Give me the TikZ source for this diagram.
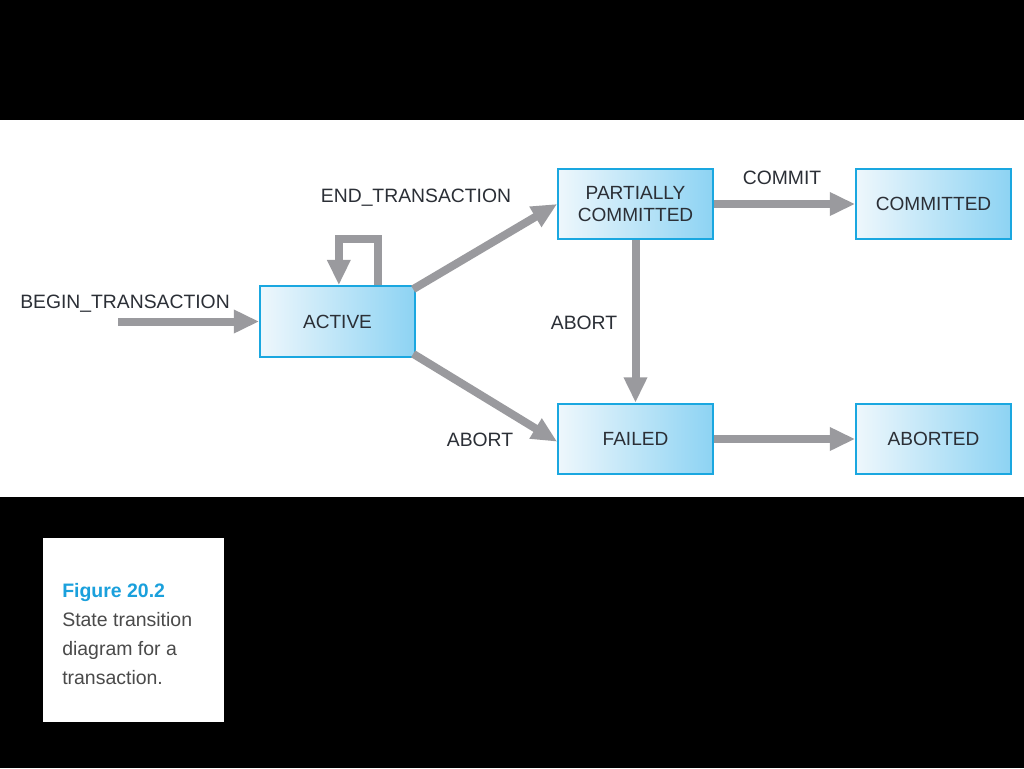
\documentclass[tikz,border=0pt]{standalone}
\usepackage{fontspec}
\setmainfont{Liberation Sans}
\usepackage{xcolor}
\usetikzlibrary{arrows.meta,positioning}

\definecolor{boxedge}{HTML}{1AA7E0}
\definecolor{boxlight}{HTML}{EEF7FC}
\definecolor{boxdark}{HTML}{8DD3F3}
\definecolor{arrgray}{HTML}{9A9A9E}
\definecolor{figblue}{HTML}{1AA0DC}
\definecolor{txt}{HTML}{2B2F36}
\definecolor{captxt}{HTML}{4A4A4A}

\begin{document}
\begin{tikzpicture}[
  x=0.75pt, y=-0.75pt,
  box/.style={rectangle, draw=boxedge, line width=1.5pt, left color=boxlight, right color=boxdark,
    minimum width=116pt, minimum height=53pt, align=center, text=txt,
    font=\fontsize{14.3}{16}\selectfont},
  arr/.style={-{Triangle[length=19pt, width=16.5pt]}, line width=6pt, draw=arrgray},
  lbl/.style={text=txt, font=\fontsize{14.5}{16}\selectfont},
]
  % background and figure band
  \fill[black] (0,0) rectangle (1024,768);
  \fill[white] (0,120) rectangle (1024,497);
  \useasboundingbox (0,0) rectangle (1024,768);

  \node[box] (active) at (337.5,321.5) {ACTIVE};
  \node[box] (partial) at (635.5,204) {PARTIALLY\\COMMITTED};
  \node[box] (committed) at (933.5,204) {COMMITTED};
  \node[box] (failed) at (635.5,439) {FAILED};
  \node[box] (aborted) at (933.5,439) {ABORTED};
  \coordinate (begin) at (118,321.5);

  \draw[arr] (begin) -- (active);
  \draw[arr] ([xshift=30pt]active.north) -- ++(0,-46) -| ([xshift=1pt]active.north);
  \draw[arr] ([xshift=-2pt,yshift=-3pt]active.north east) -- (partial.west);
  \draw[arr] ([xshift=-2pt,yshift=3pt]active.south east) -- ([yshift=-2pt]failed.west);
  \draw[arr] (partial) -- (committed);
  \draw[arr] (partial) -- (failed);
  \draw[arr] (failed) -- (aborted);

  \node[lbl] (lbegin) at (125,304) {BEGIN\_TRANSACTION};
  \node[lbl] (lend) at (416,198) {END\_TRANSACTION};
  \node[lbl] (lcommit) at (782,178) {COMMIT};
  \node[lbl] (labort1) at (584,323) {ABORT};
  \node[lbl] (labort2) at (480,440) {ABORT};

  % caption
  \fill[white] (43,538) rectangle (224,722);
  \node[anchor=north west, align=left, inner sep=0pt, text=captxt,
    font=\fontsize{14.6}{21.8}\selectfont] (caption) at (62,583)
    {{\color{figblue}\bfseries Figure 20.2}\\State transition\\diagram for a\\transaction.};
\end{tikzpicture}
\end{document}
